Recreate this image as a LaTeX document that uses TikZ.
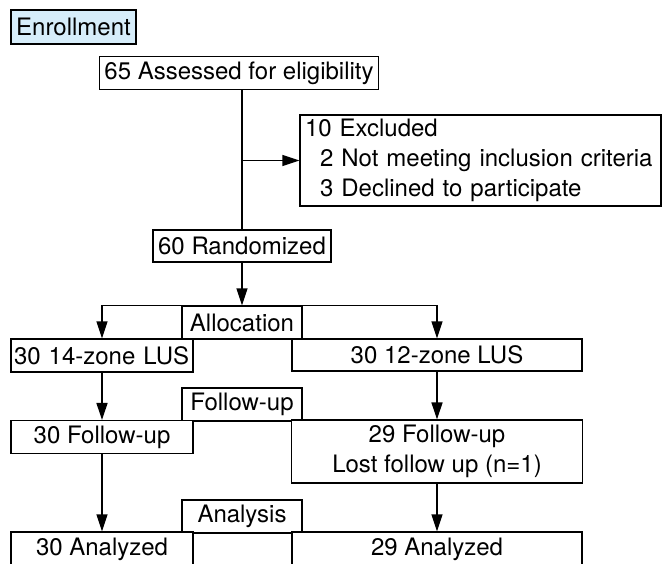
\documentclass[tikz,border=0pt]{standalone}
\usepackage{fontspec}
\setmainfont{TeX Gyre Heros}
\usetikzlibrary{arrows.meta}
\definecolor{enrollblue}{RGB}{214,237,250}
\tikzset{
  caja/.style={draw, fill=white, line width=1.3pt, inner sep=5pt,
    font=\fontsize{24}{30}\selectfont},
  linea/.style={line width=1.3pt},
  flecha/.style={line width=1.3pt, -{Triangle[length=17pt,width=11pt]}}
}
\begin{document}
\begin{tikzpicture}[x=1pt,y=-1pt]
    \useasboundingbox (0,0) rectangle (662,563);

    % Inscripcion
    \node[caja, fill=enrollblue, minimum width=125pt, minimum height=34pt] (enroll) at (73.5,27) {Enrollment};
    \node[caja, minimum width=274pt, minimum height=32pt] (assess) at (239,73) {65 Assessed for eligibility};
    \node[caja, text width=351pt, align=left, inner ysep=3pt, minimum height=91pt] (excl) at (480.5,160.5)
        {10 Excluded\\\hspace*{15pt}2 Not meeting inclusion criteria\\\hspace*{15pt}3 Declined to participate};
    \node[caja, minimum width=178pt, minimum height=32pt] (rand) at (242,246) {60 Randomized};

    % Etapas
    \node[caja, minimum width=120pt, minimum height=33pt] (alloc) at (242,322.5) {Allocation};
    \node[caja, minimum width=120pt, minimum height=33pt] (follow) at (242,404.5) {Follow-up};
    \node[caja, minimum width=120pt, minimum height=32pt] (analysis) at (242,516.5) {Analysis};

    % Grupos
    \node[caja, text width=176pt, inner xsep=3pt, align=left, minimum height=33pt] (lus14) at (102,355.5) {30 14-zone LUS};
    \node[caja, minimum width=290pt, minimum height=32pt] (lus12) at (437,355) {30 12-zone LUS};
    \node[caja, minimum width=182pt, minimum height=32pt] (fu30) at (102,437) {30 Follow-up};
    \node[caja, minimum width=291pt, minimum height=61pt, align=center] (fu29) at (437,451.5)
        {29 Follow-up\\Lost follow up (n=1)};
    \node[caja, minimum width=182pt, minimum height=34pt] (an30) at (102,549) {30 Analyzed};
    \node[caja, minimum width=290pt, minimum height=34pt] (an29) at (437,549) {29 Analyzed};

    % Flechas
    \draw[linea] (rand.north |- assess.south) -- (rand.north);
    \draw[flecha] (rand.north |- excl.west) -- (excl.west);
    \draw[flecha] (rand.south) -- (alloc.north);
    \draw[flecha] (alloc.north) -| (lus14.north);
    \draw[flecha] (alloc.north) -| (lus12.north);
    \draw[flecha] (lus14.south) -- (fu30.north);
    \draw[flecha] (lus12.south) -- (fu29.north);
    \draw[flecha] (fu30.south) -- (an30.north);
    \draw[flecha] (fu29.south) -- (an29.north);
\end{tikzpicture}
\end{document}
